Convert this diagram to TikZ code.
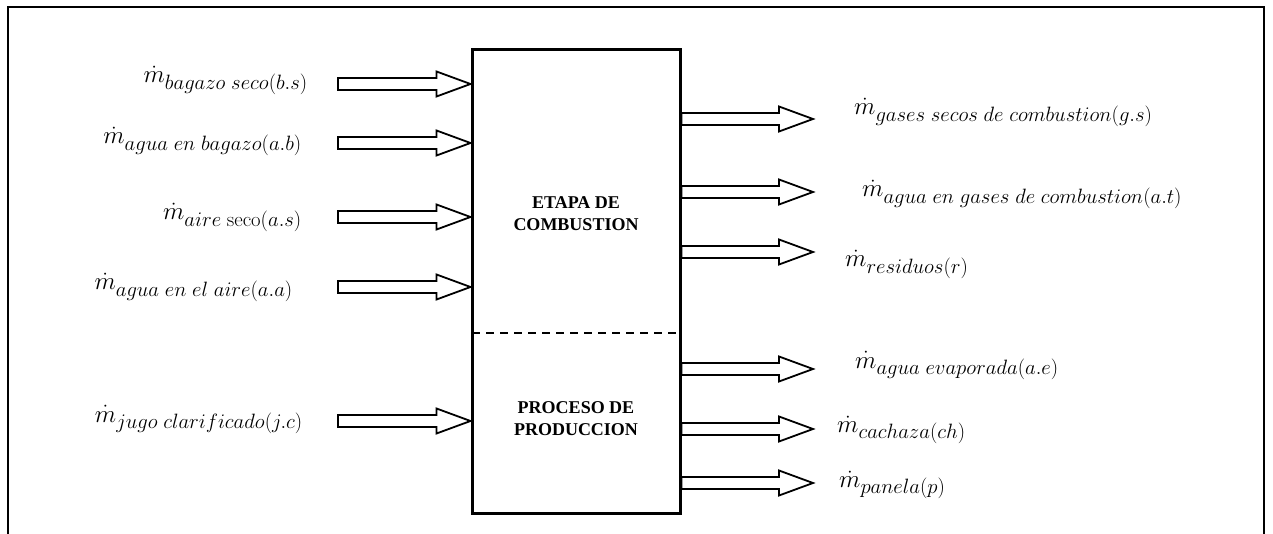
\documentclass[tikz,border=0pt]{standalone}
\usepackage{fontspec}
\DeclareMathSizes{24.88}{24.88}{20.74}{14.4}
\newfontfamily\boxfont{Liberation Serif}
\usetikzlibrary{calc}
\newcommand\mflow[1]{$\dot{m}_{#1}$}
\tikzset{
  frame/.style={line width=1.5pt},
  procbox/.style={draw, line width=3pt, minimum width=208pt, minimum height=463pt, inner sep=0pt},
  divider/.style={line width=1.5pt, dash pattern=on 8pt off 6pt},
  barrow/.style={draw, fill=white, line width=1.8pt, line join=miter},
  boxlabel/.style={font=\boxfont\bfseries\fontsize{18}{22}\selectfont, align=center, inner sep=0pt},
  inlabel/.style={anchor=base east, inner sep=0pt, font=\fontsize{24.88}{29}\selectfont},
  outlabel/.style={anchor=base west, inner sep=0pt, font=\fontsize{24.88}{29}\selectfont},
}
% block arrow from the point #1 to the point #2 (same height)
\newcommand\blkarrow[2]{%
  \path[barrow] let \p1=(#1), \p2=(#2) in
    (\x1,\y1+6pt) -- (\x2-34pt,\y1+6pt) -- (\x2-34pt,\y1+12.5pt) -- (\x2,\y2)
    -- (\x2-34pt,\y1-12.5pt) -- (\x2-34pt,\y1-6pt) -- (\x1,\y1-6pt) -- cycle;}
\begin{document}
\begin{tikzpicture}[x=1pt,y=-1pt]
\useasboundingbox (0,0) rectangle (1273,534);
% outer frame (open at the bottom)
\draw[frame] (8,540) -- (8,7) -- (1264,7) -- (1264,540);
% main box
\node[procbox] (box) at (576,281.5) {};
\coordinate (dl) at (472,333);
\coordinate (dr) at (680,333);
\draw[divider] (dl) -- (dr);
\node[boxlabel] (etapa) at (576,213.5) {ETAPA DE\\COMBUSTION};
\node[boxlabel] (proceso) at (576,419) {PROCESO DE\\PRODUCCION};
% inputs
\foreach \k/\yy in {i1/84, i2/143, i3/217, i4/287, i5/421}{
  \coordinate (\k s) at (338,\yy);
  \coordinate (\k e) at (box.west |- \k s);
  \blkarrow{\k s}{\k e}
}
\node[inlabel] (l1) at (308,83) {\mflow{bagazo\;seco(b.s)}};
\node[inlabel] (l2) at (302,144) {\mflow{agua\;en\;bagazo(a.b)}};
\node[inlabel] (l3) at (302,220) {\mflow{aire\;\mathrm{seco}(a.s)}};
\node[inlabel] (l4) at (293,290) {\mflow{agua\;en\;el\;aire(a.a)}};
\node[inlabel] (l5) at (303,422) {\mflow{jugo\;clarificado(j.c)}};
% outputs
\foreach \k/\yy in {o1/119, o2/192, o3/252, o4/369, o5/429, o6/483}{
  \coordinate (\k s) at (box.east |- 0,\yy);
  \coordinate (\k e) at (813,\yy);
  \blkarrow{\k s}{\k e}
}
\node[outlabel] (r1) at (854,115) {\mflow{gases\;secos\;de\;combustion(g.s)}};
\node[outlabel] (r2) at (862,197) {\mflow{agua\;en\;gases\;de\;combustion(a.t)}};
\node[outlabel] (r3) at (845,267) {\mflow{residuos(r)}};
\node[outlabel] (r4) at (855,368) {\mflow{agua\;evaporada(a.e)}};
\node[outlabel] (r5) at (837,432) {\mflow{cachaza(ch)}};
\node[outlabel] (r6) at (839,487) {\mflow{panela(p)}};
\end{tikzpicture}
\end{document}
